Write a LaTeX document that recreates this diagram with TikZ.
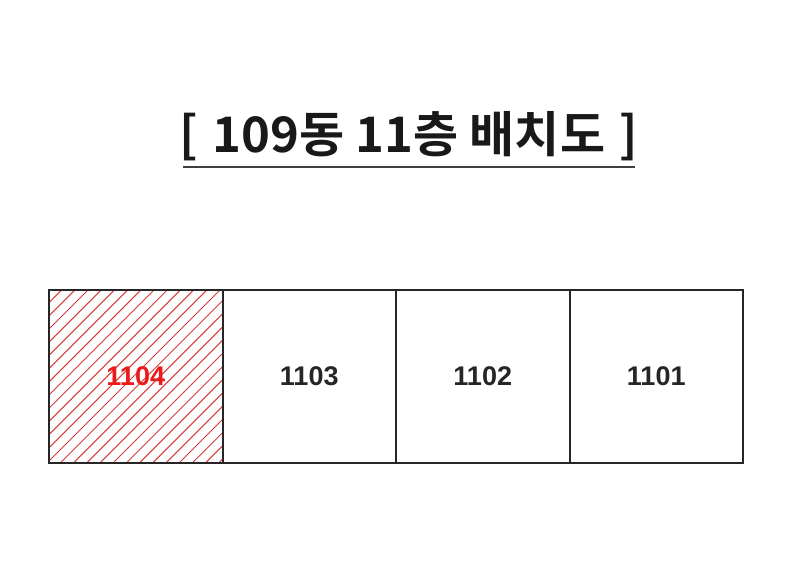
\documentclass[tikz,border=0pt]{standalone}
\usepackage{fontspec}
\setmainfont{Liberation Sans}
\newfontfamily\kr{Noto Sans CJK KR}[BoldFont={* Bold}]
\usetikzlibrary{calc}
\definecolor{hatchred}{RGB}{215,60,60}
\definecolor{numred}{RGB}{235,25,25}
\tikzset{
  cellbox/.style={draw=black!85, line width=2pt, minimum width=173.5pt, minimum height=173pt, inner sep=0pt, anchor=north west},
  cellnum/.style={font=\bfseries\fontsize{27}{30}\selectfont, text=black!85},
}
\begin{document}
\begin{tikzpicture}[x=1pt,y=-1pt]
\useasboundingbox (0,0) rectangle (800,573);
\fill[white] (0,0) rectangle (800,573);
% title
\node[anchor=base, inner sep=0pt, font=\kr\bfseries\fontsize{49}{56}\selectfont, text=black!90] (title) at (409,152) {[\hspace{0.3em}109동 11층 배치도\hspace{0.3em}]};
\draw[line width=2pt, black!75] (183,167) -- (635,167);
% hatched cell
\begin{scope}
\clip (48,289) rectangle (222,462);
\foreach \i in {-20,...,30} {
  \draw[hatchred, line width=1pt] ({48+\i*13.2},462) -- ++(200,-200);
}
\end{scope}
\node[cellbox] (c1) at (48,289) {};
\node[cellbox] (c2) at (221.5,289) {};
\node[cellbox] (c3) at (395,289) {};
\node[cellbox] (c4) at (568.5,289) {};
\node[cellnum, text=numred] at (c1.center) {1104};
\node[cellnum] at (c2.center) {1103};
\node[cellnum] at (c3.center) {1102};
\node[cellnum] at (c4.center) {1101};
\end{tikzpicture}
\end{document}
